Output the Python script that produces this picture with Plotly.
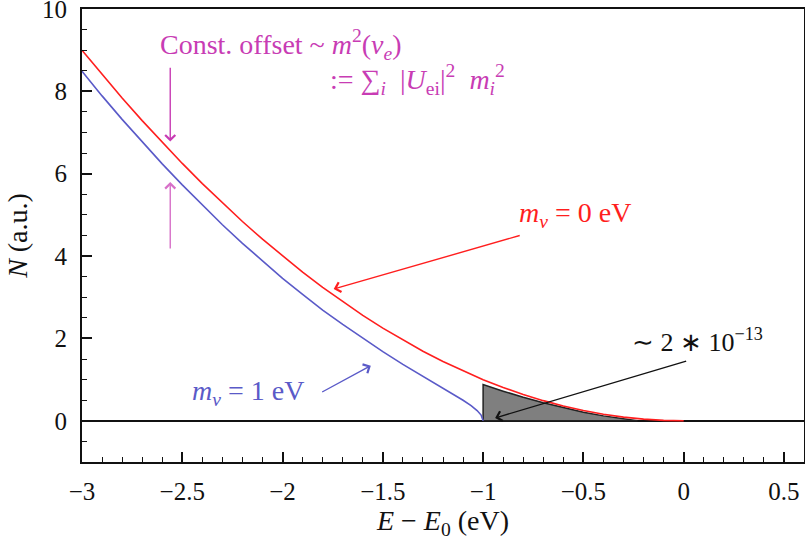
import plotly.graph_objects as go

# Red curve: m_nu = 0 eV
red_x = [-3.0, -2.9, -2.8, -2.7, -2.6, -2.5, -2.4, -2.3, -2.2, -2.1, -2.0, -1.9, -1.8, -1.7, -1.6,
         -1.5, -1.4, -1.3, -1.2, -1.1, -1.0, -0.9, -0.8, -0.7, -0.6, -0.5, -0.4, -0.3, -0.2, -0.1, 0.0]
red_y = [9.0, 8.41, 7.84, 7.29, 6.76, 6.25, 5.76, 5.29, 4.84, 4.41, 4.0, 3.61, 3.24, 2.89, 2.56,
         2.25, 1.96, 1.69, 1.44, 1.21, 1.0, 0.81, 0.64, 0.49, 0.36, 0.25, 0.16, 0.09, 0.04, 0.01, 0.0]

# Blue curve: m_nu = 1 eV
blue_x = [-3.0, -2.9, -2.8, -2.7, -2.6, -2.5, -2.4, -2.3, -2.2, -2.1, -2.0, -1.9, -1.8, -1.7, -1.6,
          -1.5, -1.4, -1.3, -1.2, -1.15, -1.1, -1.06, -1.03, -1.01, -1.0]
blue_y = [8.49, 7.89, 7.32, 6.77, 6.24, 5.73, 5.24, 4.76, 4.31, 3.88, 3.46, 3.07, 2.69, 2.34, 2.0,
          1.68, 1.37, 1.08, 0.8, 0.65, 0.5, 0.37, 0.25, 0.14, 0.0]

# Shaded endpoint region
shade_x = [-1.0, -1.0, -0.9, -0.8, -0.7, -0.6, -0.5, -0.4, -0.3, -0.23, -1.0]
shade_y = [0.0, 0.88, 0.72, 0.57, 0.44, 0.32, 0.21, 0.12, 0.05, 0.0, 0.0]

FONT = "Liberation Serif"
MAG = "#c83cb4"
RED = "#ff1e1e"
BLUE = "#5a5ac8"
ANN_SIZE = 28

fig = go.Figure()
fig.add_trace(go.Scatter(x=shade_x, y=shade_y, mode="lines", fill="toself",
                         fillcolor="#7f7f7f", line=dict(color="#222222", width=1.5),
                         hoverinfo="skip", showlegend=False))
fig.add_trace(go.Scatter(x=blue_x, y=blue_y, mode="lines",
                         line=dict(color=BLUE, width=1.6), showlegend=False))
fig.add_trace(go.Scatter(x=red_x, y=red_y, mode="lines",
                         line=dict(color=RED, width=1.6), showlegend=False))

ann = []
ann.append(dict(x=-2.62, y=9.15, xref="x", yref="y", xanchor="left", yanchor="middle",
                text="Const. offset ~ <i>m</i><sup>2</sup>(<i>ν<sub>e</sub></i>)",
                showarrow=False, font=dict(family=FONT, size=ANN_SIZE, color=MAG)))
ann.append(dict(x=-1.775, y=8.3, xref="x", yref="y", xanchor="left", yanchor="middle",
                text=":= ∑<sub><i>i</i></sub>  |<i>U</i><sub>ei</sub>|<sup>2</sup>  <i>m</i><sub><i>i</i></sub><sup>2</sup>",
                showarrow=False, font=dict(family=FONT, size=ANN_SIZE, color=MAG)))
ann.append(dict(x=-0.83, y=5.0, xref="x", yref="y", xanchor="left", yanchor="middle",
                text="<i>m<sub>ν</sub></i> = 0 eV",
                showarrow=False, font=dict(family=FONT, size=ANN_SIZE, color=RED)))
ann.append(dict(x=-2.46, y=0.68, xref="x", yref="y", xanchor="left", yanchor="middle",
                text="<i>m<sub>ν</sub></i> = 1 eV",
                showarrow=False, font=dict(family=FONT, size=ANN_SIZE, color=BLUE)))
ann.append(dict(x=-0.27, y=1.95, xref="x", yref="y", xanchor="left", yanchor="middle",
                text="∼ 2 ∗ 10<sup>−13</sup>",
                showarrow=False, font=dict(family=FONT, size=26, color="#111111")))


def arrow(x, y, ax, ay, color, width=1.4):
    return dict(x=x, y=y, ax=ax, ay=ay, xref="x", yref="y", axref="x", ayref="y",
                text="", showarrow=True, arrowhead=4, arrowsize=1.4,
                arrowwidth=width, arrowcolor=color)


ann.append(arrow(-2.56, 6.78, -2.56, 8.61, MAG))
ann.append(arrow(-2.56, 5.8, -2.56, 4.15, "#d770c8"))
ann.append(arrow(-1.745, 3.2, -0.81, 4.51, RED))
ann.append(arrow(-1.56, 1.34, -1.81, 0.68, BLUE))
ann.append(arrow(-0.94, 0.07, 0.02, 1.46, "#111111"))

fig.update_layout(
    width=805, height=544,
    margin=dict(l=82, r=1, t=9, b=82),
    paper_bgcolor="white", plot_bgcolor="white",
    font=dict(family=FONT, size=25, color="#111111"),
    annotations=ann,
    showlegend=False,
)
fig.update_xaxes(range=[-3, 0.6], tickmode="linear", tick0=-3, dtick=0.5,
                 ticks="inside", ticklen=10, tickwidth=1.5, tickcolor="#111111",
                 minor=dict(dtick=0.1, ticks="inside", ticklen=5, tickwidth=1.3, tickcolor="#111111"),
                 showline=True, linecolor="#111111", linewidth=2, mirror=True,
                 showgrid=False, zeroline=False, automargin=False,
                 ticklabelstandoff=6, ticklabeloverflow="allow",
                 tickfont=dict(family=FONT, size=25),
                 title=dict(text="<i>E</i> − <i>E</i><sub>0</sub> (eV)", font=dict(family=FONT, size=28), standoff=4))
fig.update_yaxes(range=[-1, 10], tickmode="linear", tick0=0, dtick=2,
                 ticks="inside", ticklen=10, tickwidth=1.5, tickcolor="#111111",
                 minor=dict(dtick=0.5, ticks="inside", ticklen=5, tickwidth=1.3, tickcolor="#111111"),
                 showline=True, linecolor="#111111", linewidth=2, mirror=True,
                 showgrid=False, zeroline=True, zerolinecolor="#111111", zerolinewidth=1.5,
                 automargin=False, ticklabelstandoff=8, ticklabeloverflow="allow",
                 tickfont=dict(family=FONT, size=25),
                 title=dict(text="<i>N</i> (a.u.)", font=dict(family=FONT, size=28), standoff=6))

fig.write_html("out.html", config={"displayModeBar": False},
               post_script="document.body.style.margin='0';")
